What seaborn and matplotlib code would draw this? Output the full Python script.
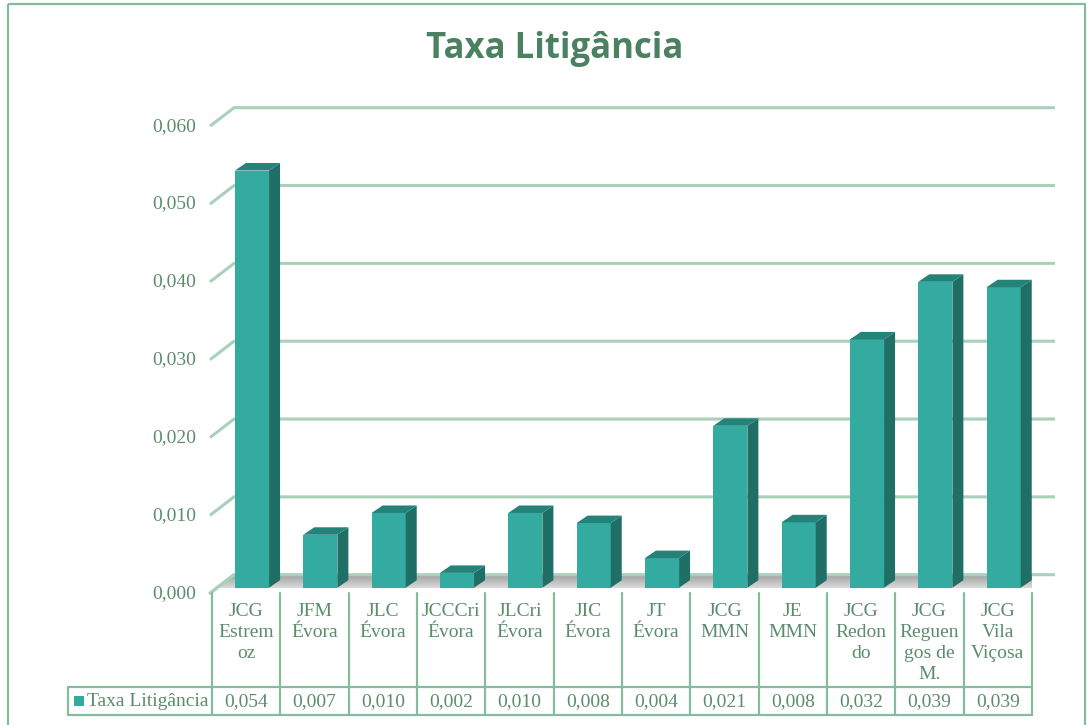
import numpy as np
import seaborn as sns
import matplotlib.pyplot as plt
from matplotlib.patches import Polygon, Rectangle
from matplotlib.transforms import blended_transform_factory

# data
categories = ["JCG\nEstrem\noz", "JFM\nÉvora", "JLC\nÉvora", "JCCCri\nÉvora", "JLCri\nÉvora",
              "JIC\nÉvora", "JT\nÉvora", "JCG\nMMN", "JE\nMMN", "JCG\nRedon\ndo",
              "JCG\nReguen\ngos de\nM.", "JCG\nVila\nViçosa"]
taxa = [0.0536, 0.0068, 0.0096, 0.0019, 0.0096, 0.0083, 0.0038, 0.0208, 0.0084, 0.0319, 0.0393, 0.0386]
yticks = [0.0, 0.01, 0.02, 0.03, 0.04, 0.05, 0.06]
series_name = "Taxa Litigância"
title = "Taxa Litigância"

W, H = 1092, 725
green_txt = "#5b8c6b"
grid_col = "#a9d0b9"
line_col = "#87bb9d"
front_col = "#34aba1"
side_col = "#1f6f67"
top_col = "#258279"
fs = 14

sns.set_style("white")
plt.rcParams['font.family'] = ['Liberation Serif', 'DejaVu Serif']

fig = plt.figure(figsize=(W / 100, H / 100), dpi=100)

# background overlay in pixel coordinates (frame, title, table lines)
bg = fig.add_axes([0, 0, 1, 1], zorder=0)
bg.set_xlim(0, W)
bg.set_ylim(H, 0)
bg.axis("off")

# main plot area: x covers the 12 table columns, y zero at the bar floor
x0, x1 = 212, 1032
y0, ytop = 587.7, 587.7 - 467
ax = fig.add_axes([x0 / W, 1 - y0 / H, (x1 - x0) / W, (y0 - ytop) / H], zorder=1)
ax.patch.set_alpha(0)

sns.barplot(x=list(range(len(categories))), y=taxa, color=front_col, width=0.5,
            saturation=1, ax=ax, native_scale=True, zorder=3)
ax.set_xlim(-0.5, len(categories) - 0.5)
ax.set_ylim(0, 0.06)
ax.axis("off")


def shift(x, y, dx=0, dy=0):
    # data point moved by image pixels (dy positive = down)
    X, Y = ax.transData.transform((x, y))
    return ax.transData.inverted().transform((X + dx, Y - dy))


# bar depth (side and top faces)
for p in ax.patches:
    p.set_x(p.get_x() + 0.085)
    p.set_edgecolor("none")
    bx, bw, bh = p.get_x(), p.get_width(), p.get_height()
    a = (bx + bw, 0)
    b = (bx + bw, bh)
    side = [a, b, tuple(shift(*b, 11, -7.5)), tuple(shift(*a, 11, -7.5))]
    ax.add_patch(Polygon(side, closed=True, facecolor=side_col, edgecolor="none", zorder=3))
    tl = (bx, bh)
    top = [tl, b, tuple(shift(*b, 11, -7.5)), tuple(shift(*tl, 11, -7.5))]
    ax.add_patch(Polygon(top, closed=True, facecolor=top_col, edgecolor="none", zorder=3))

# gridlines: front diagonal + back horizontal, tick labels at the front end
xl, xr = -0.5, len(categories) - 0.5
for t in yticks:
    f = shift(xl, t, -2, 5.5)
    b = shift(xl, t, 22, -13)
    e = shift(xr, t, 23, -13)
    ax.plot([f[0], b[0], e[0]], [f[1], b[1], e[1]], color=grid_col, lw=2.2,
            clip_on=False, zorder=1.5, solid_capstyle="butt")
    lx, ly = shift(xl, t, -16, 5.5)
    ax.text(lx, ly, f"{t:.3f}".replace(".", ","), ha="right", va="center",
            fontsize=fs, color=green_txt)

# floor with grey gradient
fl = [tuple(shift(xl, 0, -2, 5.5)), tuple(shift(xr, 0, 0, 5.5)),
      tuple(shift(xr, 0, 24, -13)), tuple(shift(xl, 0, 22, -13))]
floor = Polygon(fl, closed=True, facecolor="none", edgecolor="none", zorder=1)
ax.add_patch(floor)
grad = np.linspace(0, 1, 64).reshape(-1, 1)
fx = [q[0] for q in fl]
fy = [q[1] for q in fl]
im = ax.imshow(grad, cmap=sns.blend_palette(["#f2f2f2", "#a2a2a2"], as_cmap=True),
               extent=[min(fx), max(fx), min(fy), max(fy)], origin="lower",
               aspect="auto", zorder=1)
im.set_clip_path(floor)
ax.set_xlim(-0.5, len(categories) - 0.5)
ax.set_ylim(0, 0.06)
ax.plot([fl[0][0], fl[3][0]], [fl[0][1], fl[3][1]], color=grid_col, lw=2.2,
        clip_on=False, zorder=2)

# outer frame and title
bg.add_patch(Rectangle((8, 4), 1077, 730, fill=False, edgecolor=line_col, lw=1.6))
bg.text(555, 49, title, ha="center", va="center", fontsize=25, fontweight="bold",
        color="#4b8060", fontfamily="Open Sans")

# data table
tr = blended_transform_factory(ax.transData, bg.transData)
for i, lab in enumerate(categories):
    ax.text(i, 603, lab, transform=tr, ha="center", va="top", fontsize=fs,
            color=green_txt, linespacing=1.32, clip_on=False)
    ax.text(i, 701.5, f"{taxa[i]:.3f}".replace(".", ","), transform=tr, ha="center",
            va="center", fontsize=fs, color=green_txt, clip_on=False)
for k in range(len(categories) + 1):
    ax.plot([k - 0.5, k - 0.5], [593, 715], transform=tr, color=line_col, lw=1.6,
            clip_on=False)
bg.plot([68, x1], [687, 687], color=line_col, lw=1.6)
bg.plot([68, x1], [715, 715], color=line_col, lw=1.6)
bg.plot([68, 68], [687, 715], color=line_col, lw=1.6)
bg.add_patch(Rectangle((74, 696), 10, 10, facecolor=front_col, edgecolor="none"))
bg.text(87, 701.5, series_name, ha="left", va="center", fontsize=fs, color=green_txt)

fig.savefig("out.png", dpi=100)
